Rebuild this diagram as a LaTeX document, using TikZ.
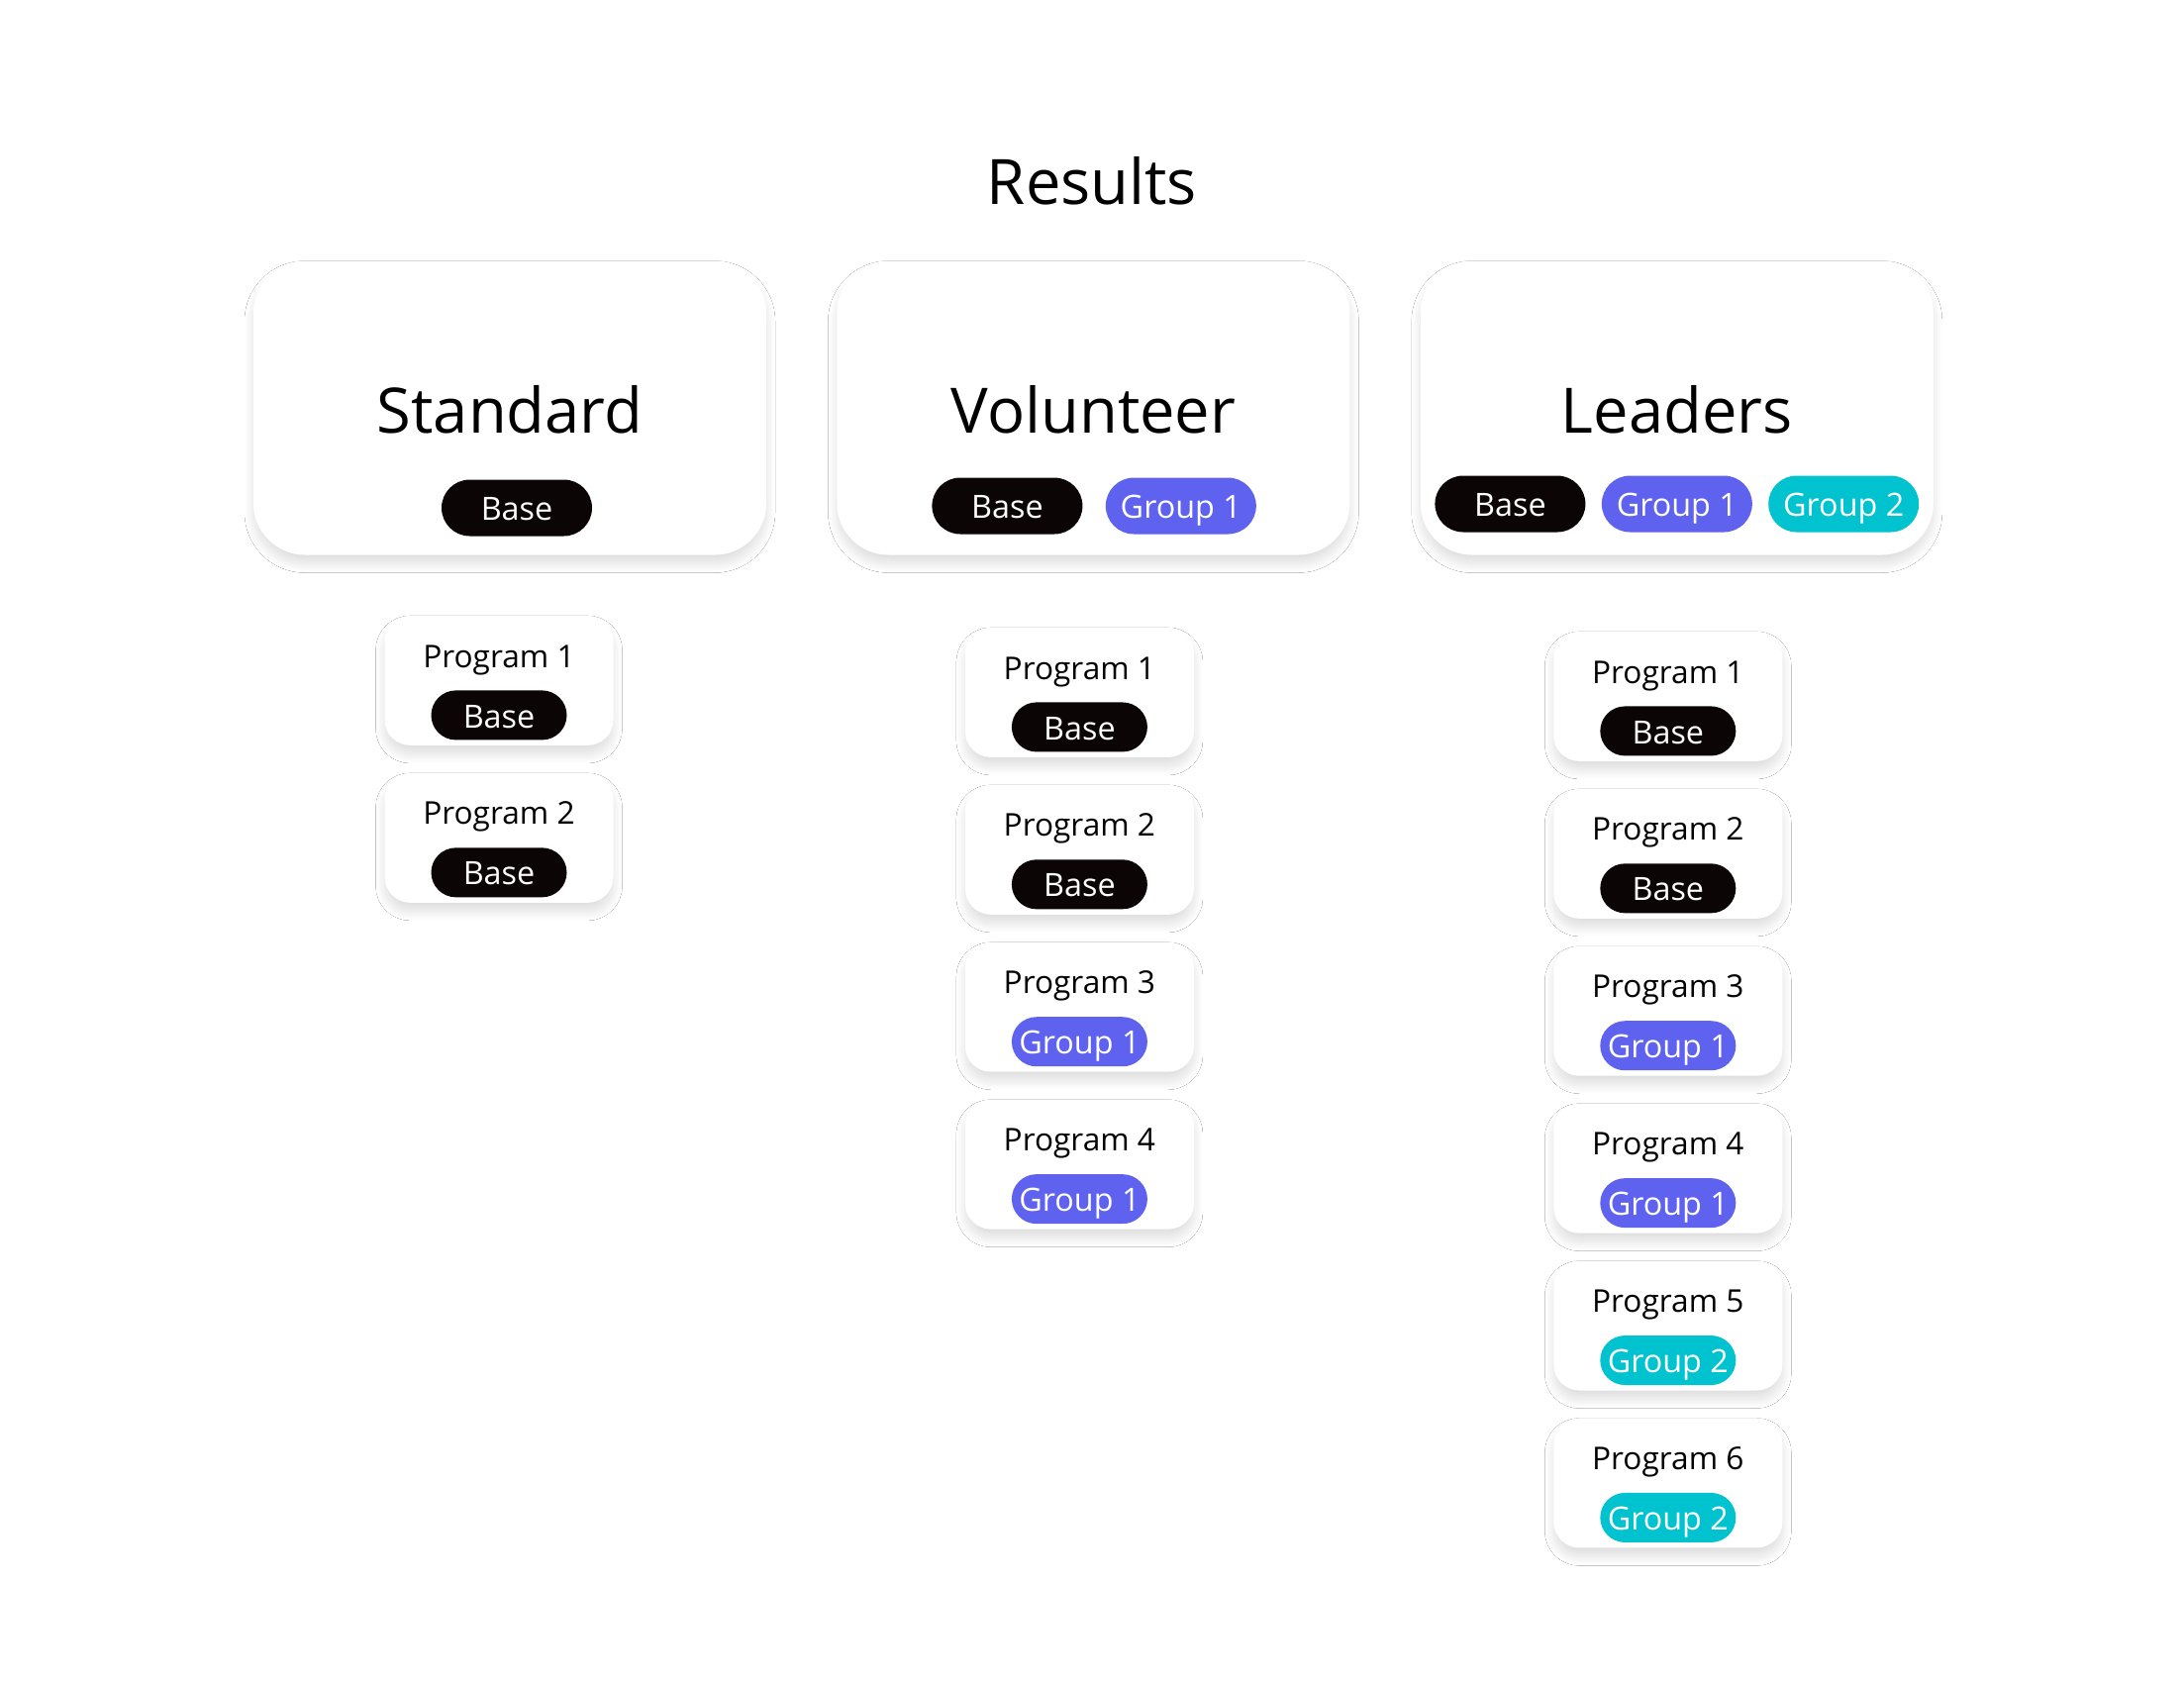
\documentclass[tikz,border=0pt]{standalone}
\usepackage{fontspec}
\setmainfont{Open Sans}
\usepackage{tikz}
\usetikzlibrary{positioning,shadows.blur}
\definecolor{ink}{HTML}{0B0605}
\definecolor{grpone}{HTML}{5E62EE}
\definecolor{grptwo}{HTML}{00C3CF}

\begin{document}
\begin{tikzpicture}[
  soft/.style={blur shadow={shadow xshift=0cm,shadow yshift=-0.09cm,shadow blur radius=0.09cm,shadow blur steps=20,shadow opacity=13}},
  tier/.style={soft,fill=white,rounded corners=0.52cm,minimum width=5.18cm,minimum height=2.97cm},
  tiername/.style={font=\fontsize{18}{22}\selectfont,inner sep=0pt,text height=0.72em,text depth=0pt},
  prog/.style={soft,fill=white,rounded corners=0.26cm,minimum width=2.31cm,minimum height=1.31cm},
  progname/.style={font=\fontsize{9}{11}\selectfont,inner sep=0pt,text height=0.72em,text depth=0pt},
  tag/.style={text=white,inner sep=0pt,text height=0.72em,text depth=0pt,font=\fontsize{9.2}{11}\selectfont},
  bigtag/.style={tag,minimum width=1.52cm,minimum height=0.57cm,rounded corners=0.285cm},
  smalltag/.style={tag,minimum width=1.37cm,minimum height=0.50cm,rounded corners=0.25cm},
  base/.style={fill=ink},
  gone/.style={fill=grpone},
  gtwo/.style={fill=grptwo}
]
\fill[white] (0,0) rectangle (22.06,-16.97);
\useasboundingbox (0,0) rectangle (22.06,-16.97);

\node[tiername] (title) at (11.03,-1.94) {Results};

% tier cards
\node[tier] (std) at (5.15,-4.12) {};
\node[tier,right=0.70cm of std] (vol) {};
\node[tier,right=0.70cm of vol] (lead) {};
\node[tiername] (stdn) at ([yshift=-0.13cm]std.center) {Standard};
\node[tiername] (voln) at ([yshift=-0.13cm]vol.center) {Volunteer};
\node[tiername] (leadn) at ([yshift=-0.13cm]lead.center) {Leaders};

\node[bigtag,base] (stdb) at ([xshift=0.07cm,yshift=-1.01cm]std.center) {Base};
\node[bigtag,base] (volb) at ([xshift=-0.87cm,yshift=-0.99cm]vol.center) {Base};
\node[bigtag,gone,right=0.22cm of volb] (volg) {Group 1};
\node[bigtag,gone] (leadg) at ([yshift=-0.97cm]lead.center) {Group 1};
\node[bigtag,base,left=0.15cm of leadg] (leadb) {Base};
\node[bigtag,gtwo,right=0.15cm of leadg] (leadh) {Group 2};

% Standard programs
\node[prog,below=0.60cm of std,xshift=-0.11cm] (s1) {};
\node[progname] (s1n) at ([yshift=0.26cm]s1.center) {Program 1};
\node[smalltag,base] (s1t) at ([yshift=-0.35cm]s1.center) {Base};
\node[prog,below=0.265cm of s1] (s2) {};
\node[progname] (s2n) at ([yshift=0.26cm]s2.center) {Program 2};
\node[smalltag,base] (s2t) at ([yshift=-0.35cm]s2.center) {Base};

% Volunteer programs
\node[prog,below=0.72cm of vol,xshift=-0.14cm] (v1) {};
\node[progname] (v1n) at ([yshift=0.26cm]v1.center) {Program 1};
\node[smalltag,base] (v1t) at ([yshift=-0.35cm]v1.center) {Base};
\node[prog,below=0.265cm of v1] (v2) {};
\node[progname] (v2n) at ([yshift=0.26cm]v2.center) {Program 2};
\node[smalltag,base] (v2t) at ([yshift=-0.35cm]v2.center) {Base};
\node[prog,below=0.265cm of v2] (v3) {};
\node[progname] (v3n) at ([yshift=0.26cm]v3.center) {Program 3};
\node[smalltag,gone] (v3t) at ([yshift=-0.35cm]v3.center) {Group 1};
\node[prog,below=0.265cm of v3] (v4) {};
\node[progname] (v4n) at ([yshift=0.26cm]v4.center) {Program 4};
\node[smalltag,gone] (v4t) at ([yshift=-0.35cm]v4.center) {Group 1};

% Leaders programs
\node[prog,below=0.76cm of lead,xshift=-0.09cm] (l1) {};
\node[progname] (l1n) at ([yshift=0.26cm]l1.center) {Program 1};
\node[smalltag,base] (l1t) at ([yshift=-0.35cm]l1.center) {Base};
\node[prog,below=0.265cm of l1] (l2) {};
\node[progname] (l2n) at ([yshift=0.26cm]l2.center) {Program 2};
\node[smalltag,base] (l2t) at ([yshift=-0.35cm]l2.center) {Base};
\node[prog,below=0.265cm of l2] (l3) {};
\node[progname] (l3n) at ([yshift=0.26cm]l3.center) {Program 3};
\node[smalltag,gone] (l3t) at ([yshift=-0.35cm]l3.center) {Group 1};
\node[prog,below=0.265cm of l3] (l4) {};
\node[progname] (l4n) at ([yshift=0.26cm]l4.center) {Program 4};
\node[smalltag,gone] (l4t) at ([yshift=-0.35cm]l4.center) {Group 1};
\node[prog,below=0.265cm of l4] (l5) {};
\node[progname] (l5n) at ([yshift=0.26cm]l5.center) {Program 5};
\node[smalltag,gtwo] (l5t) at ([yshift=-0.35cm]l5.center) {Group 2};
\node[prog,below=0.265cm of l5] (l6) {};
\node[progname] (l6n) at ([yshift=0.26cm]l6.center) {Program 6};
\node[smalltag,gtwo] (l6t) at ([yshift=-0.35cm]l6.center) {Group 2};
\end{tikzpicture}
\end{document}
